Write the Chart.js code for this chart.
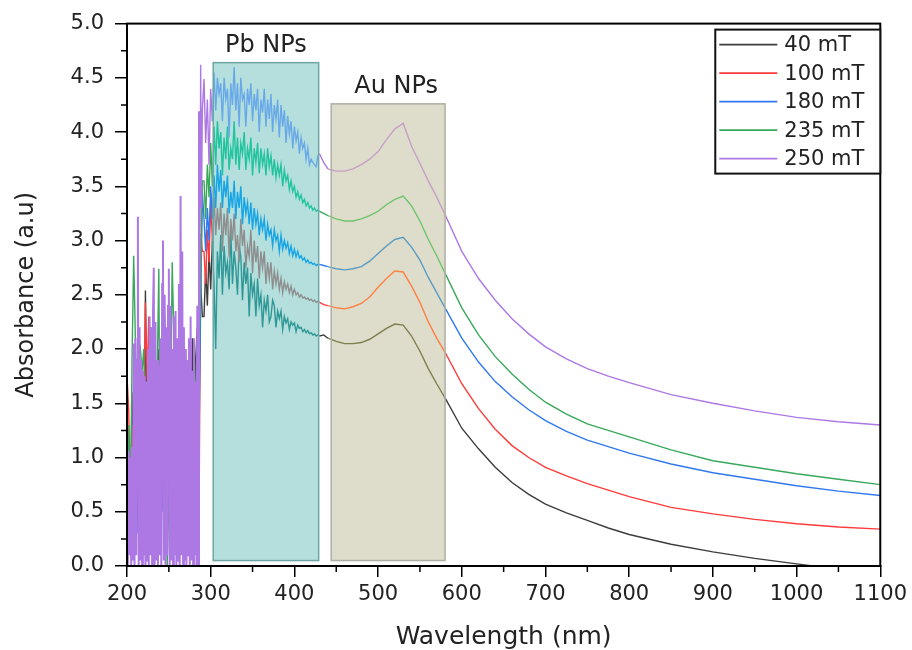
<!DOCTYPE html>
<html>
<head>
<meta charset="utf-8">
<title>Absorbance spectra</title>
<script src="https://cdn.jsdelivr.net/npm/chart.js@4.4.0/dist/chart.umd.min.js"></script>
<style>
    html, body { margin: 0; padding: 0; background: #fff; }
    #chart { display: block; }
</style>
</head>
<body>
<canvas id="chart" width="912" height="650"></canvas>
<script>
/**
 * UV-Vis absorbance of the samples, one curve per field strength
 */

// ---- data ----
const seriesLabels = ['40 mT', '100 mT', '180 mT', '235 mT', '250 mT'];

// deep UV part (noisy detector range)
const wlUV = [200, 202, 204, 206, 208, 210, 212, 214, 216, 218, 220, 222, 224, 226, 228, 230,
    232, 234, 236, 238, 240, 242, 244, 246, 248, 250, 252, 254, 256, 258, 260, 262, 264, 266,
    268, 270, 272, 274, 276, 278, 280, 282, 284, 286, 288, 290];
const wlUVfine = [200, 201, 202, 203, 204, 205, 206, 207, 208, 209,
    210, 211, 212, 213, 214, 215, 216, 217, 218, 219,
    220, 221, 222, 223, 224, 225, 226, 227, 228, 229,
    230, 231, 232, 233, 234, 235, 236, 237, 238, 239,
    240, 241, 242, 243, 244, 245, 246, 247, 248, 249,
    250, 251, 252, 253, 254, 255, 256, 257, 258, 259,
    260, 261, 262, 263, 264, 265, 266, 267, 268, 269,
    270, 271, 272, 273, 274, 275, 276, 277, 278, 279,
    280, 281, 282, 283, 284, 285, 286, 287, 288, 289, 290];

const abs40UV = [0.5, 1.2, 0.3, 1.6, 0.8, 1.9, 0.6, 1.8, 1.0, 1.7, 0.4, 2.54, 1.2, 1.6, 2.2, 1.0,
    0.5, 1.6, 0.9, 2.0, 0.6, 1.8, 1.1, 2.1, 0.7, 1.7, 1.0, 2.0, 0.5, 1.5, 0.9, 2.2, 1.2, 1.8,
    0.6, 2.0, 1.0, 1.6, 0.8, 2.1, 1.3, 1.9, 2.2, 2.0, 2.6, 2.3];
const abs100UV = [1.75, 1.45, 0.6, 1.3, 0.4, 1.6, 0.9, 1.8, 0.5, 1.4, 1.0, 2.43, 1.71, 2.3, 0.7, 1.5,
    0.4, 1.8, 1.1, 1.6, 0.3, 1.9, 0.8, 1.4, 0.5, 1.7, 1.2, 0.6, 1.8, 1.0, 1.5, 0.7, 2.0, 1.1,
    1.6, 0.4, 1.3, 0.9, 1.7, 0.6, 1.4, 1.0, 1.16, 0.3, 3.06, 2.9];
const abs180UV = [0.8, 1.2, 0.4, 1.0, 0.6, 1.4, 0.3, 1.5, 0.9, 1.7, 0.5, 1.3, 0.8, 1.6, 2.2, 1.07,
    0.56, 0.4, 1.2, 0.7, 1.8, 0.5, 1.3, 0.9, 1.6, 0.6, 1.4, 1.0, 1.9, 0.8, 1.75, 0.72, 1.5, 1.1,
    1.8, 0.6, 1.4, 0.9, 1.7, 1.2, 0.8, 1.5, 1.87, 1.16, 2.4, 3.45];
const abs235UV = [0.7, 1.3, 0.5, 1.9, 2.86, 2.1, 1.2, 1.9, 2.0, 1.8, 2.0, 1.1, 1.6, 0.8, 1.5, 0.9,
    0.0, 0.4, 1.7, 2.74, 0.27, 1.3, 2.5, 2.1, 0.0, 0.6, 1.4, 2.8, 2.1, 1.0, 1.6, 0.8, 1.9, 1.2,
    0.5, 1.5, 1.0, 1.8, 0.7, 1.3, 1.0, 1.6, 2.1, 1.9, 2.5, 3.55];
const abs250UV = [1.07, 0.0, 1.05, 0.1, 1.0, 0.0, 1.1, 0.05, 2.05, 0.0,
    2.1, 0.1, 1.9, 3.22, 0.0, 2.2, 0.05, 1.9, 0.0, 1.8,
    0.1, 1.75, 0.0, 1.7, 0.05, 2.0, 0.0, 2.3, 0.1, 2.2,
    0.0, 2.3, 2.75, 0.0, 2.25, 0.05, 1.9, 0.0, 1.85, 0.1,
    2.1, 0.0, 2.6, 3.0, 0.05, 2.5, 0.0, 2.2, 0.1, 2.4,
    2.74, 0.0, 2.4, 0.05, 2.0, 0.0, 2.3, 0.1, 2.35, 0.0,
    2.1, 0.05, 2.6, 0.0, 3.41, 0.1, 2.9, 0.0, 2.2, 0.05,
    2.0, 0.0, 1.9, 0.1, 2.1, 0.0, 2.3, 0.05, 1.8, 0.0,
    2.1, 0.1, 1.7, 0.0, 2.4, 0.0, 4.19, 2.3, 4.62, 3.3, 4.2];

// Pb nanoparticle band region
const wlPb = [292, 294, 296, 298, 300, 302, 304, 306, 308, 310,
    312, 314, 316, 318, 320, 322, 324, 326, 328, 330,
    332, 334, 336, 338, 340, 342, 344, 346, 348, 350,
    352, 354, 356, 358, 360, 362, 364, 366, 368, 370,
    372, 374, 376, 378, 380, 382, 384, 386, 388, 390,
    392, 394, 396, 398, 400, 402, 404, 406, 408, 410,
    412, 414, 416, 418, 420, 422, 424, 426, 428, 430];

const abs40Pb = [2.3, 2.75, 2.4, 2.9, 2.55, 3.0, 2.6, 2.0, 2.9, 2.65,
    3.05, 2.5, 2.95, 2.7, 2.8, 2.55, 3.1, 2.6, 2.9, 2.75,
    2.5, 2.95, 2.85, 2.45, 2.8, 2.6, 2.75, 2.3, 2.7, 2.5,
    2.6, 2.3, 2.65, 2.4, 2.5, 2.2, 2.45, 2.35, 2.5, 2.25,
    2.3, 2.45, 2.4, 2.2, 2.35, 2.28, 2.35, 2.18, 2.3, 2.24,
    2.28, 2.18, 2.25, 2.22, 2.24, 2.16, 2.22, 2.19, 2.2, 2.16,
    2.18, 2.15, 2.17, 2.14, 2.15, 2.13, 2.14, 2.12, 2.13, 2.12];
const abs100Pb = [2.9, 2.6, 3.1, 2.8, 3.35, 3.0, 3.4, 3.05, 3.3, 3.1,
    3.35, 2.9, 3.25, 3.05, 3.3, 2.85, 3.2, 3.0, 3.25, 2.9,
    3.05, 2.8, 3.2, 2.95, 3.1, 2.75, 2.95, 2.85, 3.1, 2.7,
    3.0, 2.8, 2.95, 2.65, 2.9, 2.75, 2.9, 2.6, 2.8, 2.65,
    2.8, 2.55, 2.72, 2.6, 2.7, 2.55, 2.65, 2.52, 2.62, 2.55,
    2.6, 2.52, 2.58, 2.5, 2.55, 2.5, 2.52, 2.48, 2.5, 2.47,
    2.48, 2.46, 2.47, 2.45, 2.46, 2.44, 2.45, 2.43, 2.44, 2.43];
const abs180Pb = [3.2, 2.9, 3.3, 3.0, 3.5, 3.2, 3.6, 3.3, 3.7, 3.45,
    3.65, 3.3, 3.55, 3.4, 3.6, 3.25, 3.45, 3.3, 3.55, 3.2,
    3.45, 3.3, 3.5, 3.15, 3.4, 3.25, 3.35, 3.15, 3.35, 3.1,
    3.3, 3.15, 3.25, 3.05, 3.2, 3.1, 3.2, 3.0, 3.15, 3.05,
    3.1, 2.95, 3.1, 3.0, 3.05, 2.9, 3.05, 2.92, 3.0, 2.93,
    2.98, 2.88, 2.95, 2.86, 2.92, 2.85, 2.9, 2.84, 2.86, 2.82,
    2.84, 2.8, 2.82, 2.79, 2.8, 2.78, 2.79, 2.77, 2.78, 2.78];
const abs235Pb = [3.55, 3.2, 3.7, 3.4, 3.9, 3.5, 4.05, 3.7, 4.1, 3.85,
    4.0, 3.6, 3.95, 3.75, 4.05, 3.65, 3.85, 3.75, 4.1, 3.7,
    3.95, 3.65, 3.9, 3.8, 4.0, 3.65, 3.85, 3.75, 3.95, 3.6,
    3.85, 3.72, 3.9, 3.62, 3.85, 3.7, 3.8, 3.6, 3.85, 3.68,
    3.78, 3.6, 3.75, 3.58, 3.7, 3.6, 3.7, 3.5, 3.65, 3.55,
    3.6, 3.47, 3.55, 3.45, 3.5, 3.4, 3.45, 3.38, 3.42, 3.35,
    3.38, 3.32, 3.35, 3.3, 3.32, 3.28, 3.3, 3.27, 3.28, 3.27];
const abs250Pb = [4.49, 3.9, 4.3, 3.7, 4.4, 4.1, 4.55, 4.2, 4.5, 4.35,
    4.45, 4.1, 4.5, 4.3, 4.4, 3.95, 4.45, 4.25, 4.6, 4.2,
    4.45, 4.05, 4.5, 4.3, 4.35, 4.05, 4.4, 4.25, 4.45, 4.1,
    4.35, 4.2, 4.4, 4.0, 4.3, 4.18, 4.4, 4.05, 4.3, 4.12,
    4.35, 4.0, 4.25, 4.12, 4.3, 3.95, 4.25, 4.05, 4.2, 3.9,
    4.15, 3.98, 4.1, 3.85, 4.05, 3.92, 4.0, 3.8, 3.95, 3.85,
    3.9, 3.75, 3.85, 3.7, 3.75, 3.72, 3.7, 3.68, 3.78, 3.8];

// visible / NIR part (smooth)
const wlVis = [435, 440, 450, 460, 470, 480, 490, 500, 510, 520, 530, 540, 550, 560, 570, 580,
    600, 620, 640, 660, 680, 700, 725, 750, 775, 800, 850, 900, 950, 1000, 1050, 1100];

const abs40Vis = [2.13, 2.10, 2.07, 2.05, 2.05, 2.06, 2.09, 2.14, 2.19, 2.23, 2.22, 2.12, 1.98, 1.82,
    1.68, 1.55, 1.27, 1.08, 0.91, 0.77, 0.66, 0.57, 0.49, 0.42, 0.35, 0.29, 0.20, 0.13, 0.07,
    0.02, -0.03, -0.07];
const abs100Vis = [2.41, 2.40, 2.38, 2.37, 2.39, 2.42, 2.48, 2.57, 2.65, 2.72, 2.71, 2.58, 2.43, 2.25,
    2.10, 1.97, 1.68, 1.45, 1.26, 1.11, 1.00, 0.91, 0.83, 0.76, 0.70, 0.64, 0.54, 0.48, 0.43,
    0.39, 0.36, 0.34];
const abs180Vis = [2.77, 2.76, 2.74, 2.73, 2.74, 2.76, 2.81, 2.88, 2.95, 3.01, 3.03, 2.94, 2.82, 2.66,
    2.52, 2.38, 2.10, 1.88, 1.70, 1.56, 1.44, 1.34, 1.24, 1.16, 1.10, 1.04, 0.94, 0.86, 0.80,
    0.74, 0.69, 0.65];
const abs235Vis = [3.25, 3.23, 3.20, 3.18, 3.18, 3.20, 3.23, 3.27, 3.33, 3.38, 3.41, 3.32, 3.18, 3.01,
    2.86, 2.70, 2.38, 2.13, 1.93, 1.77, 1.63, 1.51, 1.40, 1.31, 1.25, 1.19, 1.07, 0.97, 0.91,
    0.85, 0.80, 0.75];
const abs250Vis = [3.72, 3.66, 3.64, 3.64, 3.66, 3.70, 3.75, 3.82, 3.93, 4.03, 4.08, 3.87, 3.71, 3.55,
    3.40, 3.24, 2.90, 2.65, 2.45, 2.28, 2.14, 2.02, 1.91, 1.82, 1.75, 1.69, 1.58, 1.50, 1.43,
    1.37, 1.33, 1.30];

// shaded regions (wavelength from/to, absorbance bottom/top)
const regionNames = ['Pb NPs', 'Au NPs'];
const regionFrom = [303, 444];
const regionTo = [429, 580];
const regionBottom = [0.05, 0.05];
const regionTop = [4.64, 4.26];

// axis ticks
const xTicks = [200, 300, 400, 500, 600, 700, 800, 900, 1000, 1100];
const yTicks = [0, 0.5, 1, 1.5, 2, 2.5, 3, 3.5, 4, 4.5, 5];

// ---- styles ----
const FONT = 'DejaVu Sans';
const TEXT_COLOR = '#222';
const lineColors = ['#3c3c3c', '#ff3a3a', '#2f78ee', '#38a95a', '#ad78e4'];
// how each line looks under the translucent region boxes
const pbTints = ['#2f9896', '#8e8e8e', '#17a5e6', '#22c49e', '#6aa9e8'];
const auTints = ['#7f7f4e', '#ff8242', '#5a9cc4', '#6cc66c', '#c6a0c6'];
const regionFill = ['#b4dfdd', '#dedcca'];
const regionBorder = ['#6fa6a4', '#aeaea4'];

/**
 * Helper to join the pieces of one spectrum into {x, y} points
 */
function toPoints(parts) {
    const pts = [];
    parts.forEach(([xs, ys]) => {
        xs.forEach((x, i) => pts.push({ x: x, y: ys[i] }));
    });
    return pts;
}

const spectra = [
    toPoints([[wlUV, abs40UV], [wlPb, abs40Pb], [wlVis, abs40Vis]]),
    toPoints([[wlUV, abs100UV], [wlPb, abs100Pb], [wlVis, abs100Vis]]),
    toPoints([[wlUV, abs180UV], [wlPb, abs180Pb], [wlVis, abs180Vis]]),
    toPoints([[wlUV, abs235UV], [wlPb, abs235Pb], [wlVis, abs235Vis]]),
    toPoints([[wlUVfine, abs250UV], [wlPb, abs250Pb], [wlVis, abs250Vis]])
];

/**
 * Pick the segment colour: tinted inside a shaded region
 */
function segmentColor(index) {
    return function(ctx) {
        const mid = (ctx.p0.parsed.x + ctx.p1.parsed.x) / 2;
        if (mid >= regionFrom[0] && mid <= regionTo[0]) return pbTints[index];
        if (mid >= regionFrom[1] && mid <= regionTo[1]) return auTints[index];
        return undefined;
    };
}

/**
 * The dense UV noise of the top curve reads as a solid block; draw it a bit heavier
 */
function segmentWidth(index) {
    return function(ctx) {
        if (index === seriesLabels.length - 1 && ctx.p1.parsed.x <= 286) return 2;
        return undefined;
    };
}

// later series are drawn on top, as in the original plot
const datasets = seriesLabels.map((label, i) => ({
    label: label,
    data: spectra[i],
    order: seriesLabels.length - i,
    borderColor: lineColors[i],
    borderWidth: 1.4,
    pointRadius: 0,
    tension: 0,
    segment: { borderColor: segmentColor(i), borderWidth: segmentWidth(i) }
}));

/**
 * Region boxes, minor ticks, frame and the boxed legend
 */
const extrasPlugin = {
    id: 'extras',
    beforeDatasetsDraw(chart) {
        const { ctx, scales: { x, y } } = chart;
        ctx.save();
        regionNames.forEach((name, i) => {
            const l = x.getPixelForValue(regionFrom[i]);
            const r = x.getPixelForValue(regionTo[i]);
            const t = y.getPixelForValue(regionTop[i]);
            const b = y.getPixelForValue(regionBottom[i]);
            ctx.fillStyle = regionFill[i];
            ctx.fillRect(l, t, r - l, b - t);
        });
        ctx.restore();
    },
    afterDatasetsDraw(chart) {
        const { ctx, chartArea, scales: { x, y } } = chart;
        ctx.save();

        // region outlines and names
        regionNames.forEach((name, i) => {
            const l = x.getPixelForValue(regionFrom[i]);
            const r = x.getPixelForValue(regionTo[i]);
            const t = y.getPixelForValue(regionTop[i]);
            const b = y.getPixelForValue(regionBottom[i]);
            ctx.strokeStyle = regionBorder[i];
            ctx.lineWidth = 1.5;
            ctx.strokeRect(l, t, r - l, b - t);

            ctx.fillStyle = TEXT_COLOR;
            ctx.font = '24px "' + FONT + '"';
            ctx.textAlign = 'center';
            ctx.textBaseline = 'alphabetic';
            ctx.fillText(name, (l + r) / 2 + (i === 1 ? 8 : 0), t - 11);
        });

        // minor ticks
        ctx.strokeStyle = '#000';
        ctx.lineWidth = 1.5;
        ctx.beginPath();
        for (let v = 250; v < 1100; v += 100) {
            const px = x.getPixelForValue(v);
            ctx.moveTo(px, chartArea.bottom);
            ctx.lineTo(px, chartArea.bottom + 6);
        }
        for (let v = 0.25; v < 5; v += 0.5) {
            const py = y.getPixelForValue(v);
            ctx.moveTo(chartArea.left, py);
            ctx.lineTo(chartArea.left - 6, py);
        }
        ctx.stroke();

        // frame
        ctx.lineWidth = 2;
        ctx.strokeRect(chartArea.left, chartArea.top, chartArea.right - chartArea.left, chartArea.bottom - chartArea.top);
        ctx.restore();
    },
    afterDraw(chart) {
        const { ctx, chartArea } = chart;
        const boxW = 165, boxH = 144;
        const left = chartArea.right - boxW;
        const top = chartArea.top + 6;
        ctx.save();
        ctx.fillStyle = '#fff';
        ctx.fillRect(left, top, boxW, boxH);
        ctx.strokeStyle = '#111';
        ctx.lineWidth = 2;
        ctx.strokeRect(left, top, boxW, boxH);

        ctx.font = '21px "' + FONT + '"';
        ctx.textAlign = 'left';
        ctx.textBaseline = 'middle';
        chart.data.datasets.forEach((ds, i) => {
            const rowY = top + 15 + i * 28.5;
            ctx.strokeStyle = ds.borderColor;
            ctx.lineWidth = 1.6;
            ctx.beginPath();
            ctx.moveTo(left + 4, rowY);
            ctx.lineTo(left + 62, rowY);
            ctx.stroke();
            ctx.fillStyle = TEXT_COLOR;
            ctx.fillText(ds.label, left + 69, rowY + 1);
        });
        ctx.restore();
    }
};

Chart.defaults.font.family = FONT;
Chart.defaults.color = TEXT_COLOR;

new Chart(document.getElementById('chart'), {
    type: 'line',
    data: { datasets: datasets },
    options: {
        responsive: false,
        animation: false,
        layout: { padding: { left: 0, right: 31, top: 22, bottom: 0 } },
        plugins: {
            legend: { display: false },
            tooltip: { enabled: false }
        },
        scales: {
            x: {
                type: 'linear',
                min: 200,
                max: 1100,
                afterBuildTicks: scale => { scale.ticks = xTicks.map(v => ({ value: v })); },
                ticks: {
                    font: { size: 21 },
                    color: TEXT_COLOR,
                    padding: 5,
                    maxRotation: 0,
                    callback: v => String(v)
                },
                grid: { drawOnChartArea: false, tickLength: 11, color: '#000', lineWidth: 1.5 },
                border: { color: '#000', width: 2 },
                title: {
                    display: true,
                    text: 'Wavelength (nm)',
                    font: { size: 25, lineHeight: 1 },
                    color: TEXT_COLOR,
                    padding: { top: 0, bottom: 0 }
                },
                afterFit: scale => { scale.height = 84; }
            },
            y: {
                min: 0,
                max: 5,
                afterBuildTicks: scale => { scale.ticks = yTicks.map(v => ({ value: v })); },
                ticks: {
                    font: { size: 21 },
                    color: TEXT_COLOR,
                    padding: 11,
                    callback: v => Number(v).toFixed(1)
                },
                grid: { drawOnChartArea: false, tickLength: 12, color: '#000', lineWidth: 1.5 },
                border: { color: '#000', width: 2 },
                title: {
                    display: true,
                    text: 'Absorbance (a.u)',
                    font: { size: 24, lineHeight: 1.2 },
                    color: TEXT_COLOR,
                    padding: { top: 12, bottom: 0 }
                },
                afterFit: scale => { scale.width = 127; }
            }
        }
    },
    plugins: [extrasPlugin]
});
</script>
</body>
</html>
